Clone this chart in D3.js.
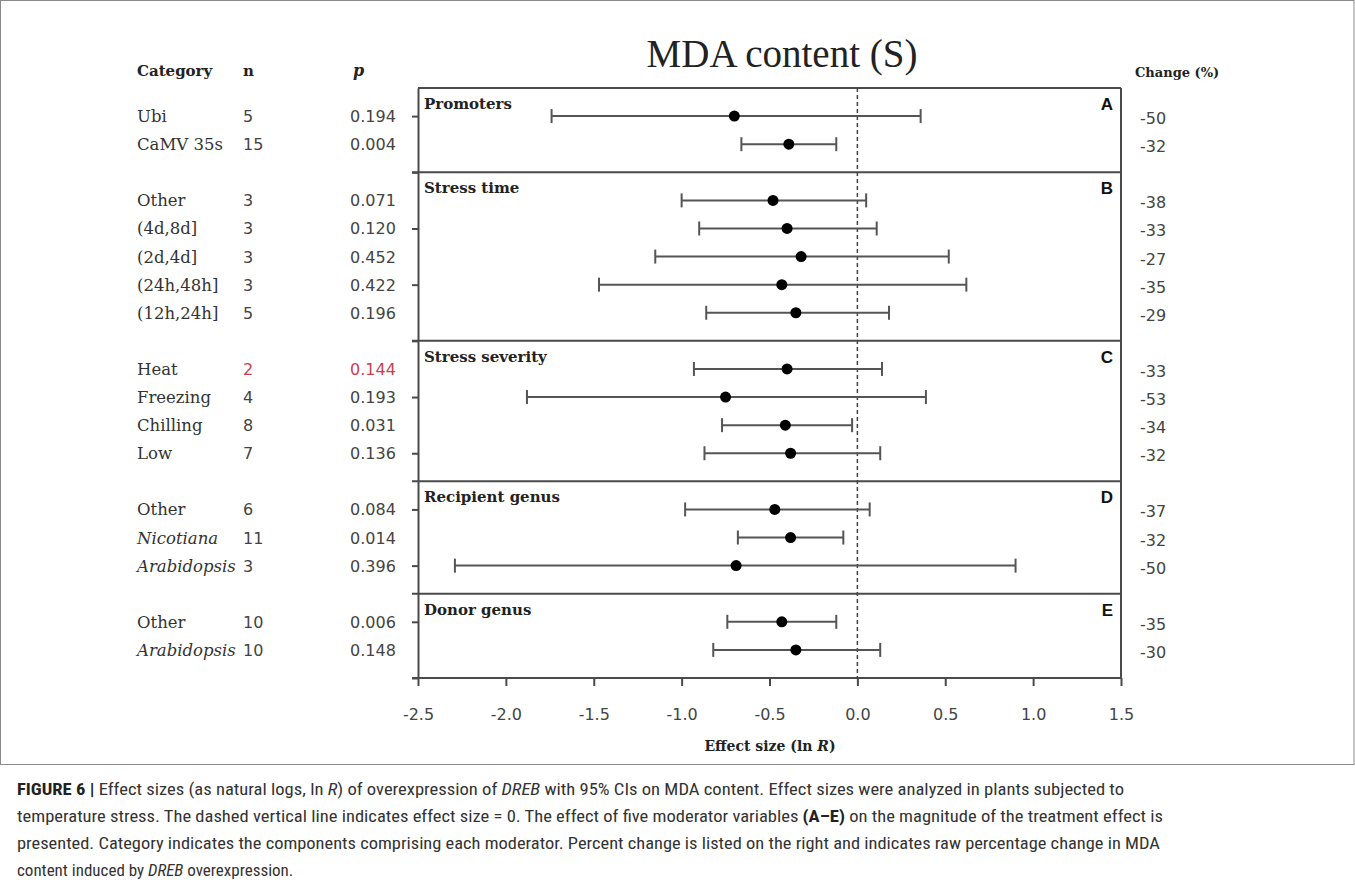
<!DOCTYPE html>
<html><head><meta charset="utf-8">
<script src="https://cdn.jsdelivr.net/npm/d3@7"></script>
<style>
html,body{margin:0;padding:0;background:#fff;}
svg{display:block;}
</style></head>
<body>
<svg id="chart" width="1355" height="895"></svg>
<script>
// ---- data ----
const groupNames = ["Promoters", "Stress time", "Stress severity", "Recipient genus", "Donor genus"];
const groupLetters = ["A", "B", "C", "D", "E"];
const groupSizes = [2, 5, 4, 3, 2];
const categories = ["Ubi", "CaMV 35s", "Other", "(4d,8d]", "(2d,4d]", "(24h,48h]", "(12h,24h]",
  "Heat", "Freezing", "Chilling", "Low", "Other", "Nicotiana", "Arabidopsis", "Other", "Arabidopsis"];
const italicCat = [false, false, false, false, false, false, false, false, false, false, false, false, true, true, false, true];
const nValues = ["5", "15", "3", "3", "3", "3", "5", "2", "4", "8", "7", "6", "11", "3", "10", "10"];
const pValues = ["0.194", "0.004", "0.071", "0.120", "0.452", "0.422", "0.196", "0.144", "0.193", "0.031", "0.136", "0.084", "0.014", "0.396", "0.006", "0.148"];
const highlight = [false, false, false, false, false, false, false, true, false, false, false, false, false, false, false, false];
const effect = [-0.70, -0.39, -0.48, -0.40, -0.32, -0.43, -0.35, -0.40, -0.75, -0.41, -0.38, -0.47, -0.38, -0.69, -0.43, -0.35];
const lower = [-1.74, -0.66, -1.00, -0.90, -1.15, -1.47, -0.86, -0.93, -1.88, -0.77, -0.87, -0.98, -0.68, -2.29, -0.74, -0.82];
const upper = [0.36, -0.12, 0.05, 0.11, 0.52, 0.62, 0.18, 0.14, 0.39, -0.03, 0.13, 0.07, -0.08, 0.90, -0.12, 0.13];
const change = ["-50", "-32", "-38", "-33", "-27", "-35", "-29", "-33", "-53", "-34", "-32", "-37", "-32", "-50", "-35", "-30"];
const xTicks = [-2.5, -2.0, -1.5, -1.0, -0.5, 0.0, 0.5, 1.0, 1.5];

// ---- layout ----
const svg = d3.select("#chart");
const L = 418, R = 1121, T = 88, B = 678;
const lineCol = "#4a4a4a";

// slot index for each row (groups separated by one empty slot)
const slots = [], sepSlots = [], groupStartSlot = [];
let s = 0;
groupSizes.forEach((g, gi) => {
  groupStartSlot.push(s - 1);
  for (let k = 0; k < g; k++) slots.push(s++);
  if (gi < groupSizes.length - 1) { sepSlots.push(s); s++; }
});
const y = d3.scaleLinear().domain([-1, s]).range([T, B]);
const x = d3.scaleLinear().domain([-2.5, 1.5]).range([L, R]);

// outer border
svg.append("rect").attr("x", 0.5).attr("y", 0.5).attr("width", 1353.5).attr("height", 764)
  .attr("fill", "none").attr("stroke", "#8a8a8a").attr("stroke-width", 1);

// title
svg.append("text").attr("x", 782).attr("y", 67).attr("text-anchor", "middle")
  .attr("font-family", "Liberation Serif, Times New Roman, serif").attr("font-size", 39)
  .attr("fill", "#222").text("MDA content (S)");

// headers
const serif = "DejaVu Serif, serif";
const sans = "DejaVu Sans, Verdana, sans-serif";
svg.append("text").attr("x", 137).attr("y", 76).attr("font-family", serif).attr("font-weight", "bold")
  .attr("font-size", 15).attr("fill", "#222").text("Category");
svg.append("text").attr("x", 243).attr("y", 76).attr("font-family", serif).attr("font-weight", "bold")
  .attr("font-size", 15).attr("fill", "#222").text("n");
svg.append("text").attr("x", 353).attr("y", 76).attr("font-family", serif).attr("font-weight", "bold")
  .attr("font-style", "italic").attr("font-size", 16).attr("fill", "#222").text("p");
svg.append("text").attr("x", 1135).attr("y", 77).attr("font-family", serif).attr("font-weight", "bold")
  .attr("font-size", 13).attr("fill", "#222").text("Change (%)");

// plot frame
svg.append("line").attr("x1", L).attr("x2", R).attr("y1", T).attr("y2", T).attr("stroke", lineCol).attr("stroke-width", 2);
svg.append("line").attr("x1", R).attr("x2", R).attr("y1", T).attr("y2", B).attr("stroke", lineCol).attr("stroke-width", 2);

// separators
svg.selectAll("line.sep").data(sepSlots).join("line").attr("class", "sep")
  .attr("x1", L - 6).attr("x2", R).attr("y1", d => y(d)).attr("y2", d => y(d))
  .attr("stroke", lineCol).attr("stroke-width", 2);

// x axis
const xAxis = d3.axisBottom(x).tickValues(xTicks).tickSize(8).tickSizeOuter(0)
  .tickFormat(d3.format(".1f"));
const gx = svg.append("g").attr("transform", `translate(0,${B})`).call(xAxis);
gx.select(".domain").attr("stroke", lineCol).attr("stroke-width", 2).attr("d", `M${L - 6},0H${R}`);
gx.selectAll(".tick line").attr("stroke", lineCol).attr("stroke-width", 2);
gx.selectAll(".tick text").attr("font-family", sans).attr("font-size", 16).attr("fill", "#444")
  .attr("dy", "1.95em").text(d => d3.format(".1f")(d).replace("−", "-"));

// y axis (ticks every other slot)
const yTickVals = d3.range(0, s + 1, 2);
const yAxis = d3.axisLeft(y).tickValues(yTickVals).tickSize(6).tickSizeOuter(0).tickFormat("");
const gy = svg.append("g").attr("transform", `translate(${L},0)`).call(yAxis);
gy.select(".domain").attr("stroke", lineCol).attr("stroke-width", 2);
gy.selectAll(".tick line").attr("stroke", lineCol).attr("stroke-width", 2);

// x axis label
const xl = svg.append("text").attr("x", 770).attr("y", 751).attr("text-anchor", "middle")
  .attr("font-family", serif).attr("font-weight", "bold").attr("font-size", 14).attr("fill", "#222");
xl.append("tspan").text("Effect size (ln ");
xl.append("tspan").attr("font-style", "italic").text("R");
xl.append("tspan").text(")");

// zero line
svg.append("line").attr("x1", x(0)).attr("x2", x(0)).attr("y1", T).attr("y2", B)
  .attr("stroke", "#444").attr("stroke-width", 1.5).attr("stroke-dasharray", "4,3");

// group titles and letters
groupNames.forEach((g, i) => {
  const top = y(groupStartSlot[i]);
  svg.append("text").attr("x", 424).attr("y", top + 21).attr("font-family", serif)
    .attr("font-weight", "bold").attr("font-size", 15).attr("fill", "#222").text(g);
  svg.append("text").attr("x", 1113).attr("y", top + 22).attr("text-anchor", "end")
    .attr("font-family", "Liberation Sans, Arial, sans-serif").attr("font-weight", "bold")
    .attr("font-size", 17).attr("fill", "#111").text(groupLetters[i]);
});

// rows
const rows = categories.map((c, i) => ({
  cat: c, it: italicCat[i], n: nValues[i], p: pValues[i], hl: highlight[i],
  e: effect[i], lo: lower[i], hi: upper[i], ch: change[i], slot: slots[i]
}));

const g = svg.append("g");
g.selectAll("line.ci").data(rows).join("line").attr("class", "ci")
  .attr("x1", d => x(d.lo)).attr("x2", d => x(d.hi)).attr("y1", d => y(d.slot)).attr("y2", d => y(d.slot))
  .attr("stroke", "#555").attr("stroke-width", 2);
g.selectAll("line.capl").data(rows).join("line").attr("class", "capl")
  .attr("x1", d => x(d.lo)).attr("x2", d => x(d.lo)).attr("y1", d => y(d.slot) - 7).attr("y2", d => y(d.slot) + 7)
  .attr("stroke", "#555").attr("stroke-width", 2);
g.selectAll("line.caph").data(rows).join("line").attr("class", "caph")
  .attr("x1", d => x(d.hi)).attr("x2", d => x(d.hi)).attr("y1", d => y(d.slot) - 7).attr("y2", d => y(d.slot) + 7)
  .attr("stroke", "#555").attr("stroke-width", 2);
g.selectAll("circle").data(rows).join("circle")
  .attr("cx", d => x(d.e)).attr("cy", d => y(d.slot)).attr("r", 5.5).attr("fill", "#000");

// text columns
svg.selectAll("text.cat").data(rows).join("text").attr("class", "cat")
  .attr("x", 137).attr("y", d => y(d.slot) + 6).attr("font-family", serif).attr("font-size", 16.5)
  .attr("font-style", d => d.it ? "italic" : "normal").attr("fill", "#333").text(d => d.cat);
svg.selectAll("text.nv").data(rows).join("text").attr("class", "nv")
  .attr("x", 243).attr("y", d => y(d.slot) + 6).attr("font-family", sans).attr("font-size", 16)
  .attr("fill", d => d.hl ? "#c8404f" : "#444").text(d => d.n);
svg.selectAll("text.pv").data(rows).join("text").attr("class", "pv")
  .attr("x", 350).attr("y", d => y(d.slot) + 6).attr("font-family", sans).attr("font-size", 16)
  .attr("fill", d => d.hl ? "#c8404f" : "#444").text(d => d.p);
svg.selectAll("text.chg").data(rows).join("text").attr("class", "chg")
  .attr("x", 1140).attr("y", d => y(d.slot) + 8).attr("font-family", sans).attr("font-size", 16)
  .attr("fill", "#444").text(d => d.ch);

// caption
const capFont = "Liberation Sans Narrow, Roboto Condensed, Liberation Sans, Arial, sans-serif";
const capLines = [
  { y: 795, w: 1107, parts: [["FIGURE 6 |", "b"], [" Effect sizes (as natural logs, ln ", ""], ["R", "i"], [") of overexpression of ", ""], ["DREB", "i"], [" with 95% CIs on MDA content. Effect sizes were analyzed in plants subjected to", ""]] },
  { y: 822, w: 1146, parts: [["temperature stress. The dashed vertical line indicates effect size = 0. The effect of five moderator variables ", ""], ["(A–E)", "b"], [" on the magnitude of the treatment effect is", ""]] },
  { y: 849, w: 1143, parts: [["presented. Category indicates the components comprising each moderator. Percent change is listed on the right and indicates raw percentage change in MDA", ""]] },
  { y: 876, w: null, parts: [["content induced by ", ""], ["DREB", "i"], [" overexpression.", ""]] }
];
capLines.forEach(l => {
  const t = svg.append("text").attr("x", 17).attr("y", l.y).attr("font-family", capFont)
    .attr("font-size", 17).attr("fill", "#333");
  if (l.w) t.attr("textLength", l.w).attr("lengthAdjust", "spacingAndGlyphs");
  l.parts.forEach(p => {
    const ts = t.append("tspan").text(p[0]);
    if (p[1] === "b") ts.attr("font-weight", "bold").attr("fill", "#222");
    if (p[1] === "i") ts.attr("font-style", "italic");
  });
});
</script>
</body></html>
